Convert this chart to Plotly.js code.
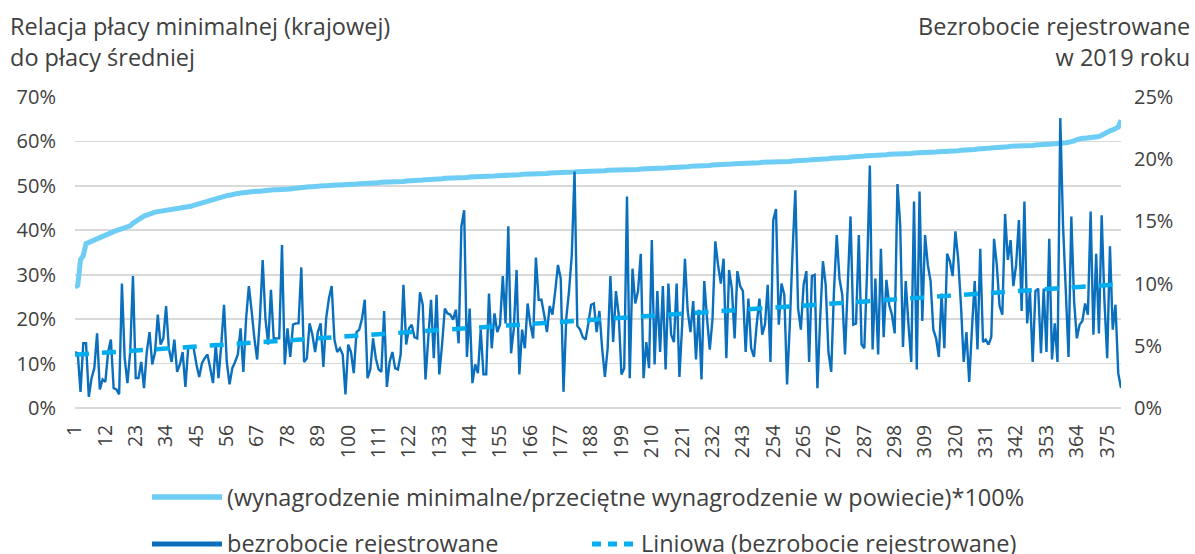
<!DOCTYPE html>
<html>
<head>
<meta charset="utf-8">
<script src="https://cdn.plot.ly/plotly-3.0.1.min.js"></script>
<style>
  html, body { margin: 0; padding: 0; background: #fff; }
  #chart { width: 1195px; height: 554px; }
</style>
</head>
<body>
<div id="chart"></div>
<script>
// ---------- DATA ----------
// Powiat rank (sorted by wage ratio)
const powiatRank = Array.from({length: 380}, (_, i) => i + 1);

// (wynagrodzenie minimalne / przeciętne wynagrodzenie w powiecie) * 100, in %
const wageRatio = [
  27.2, 27.6, 33.4, 34.3, 37.0, 37.3, 37.5, 37.7, 37.9, 38.3,
  38.7, 39.0, 39.3, 39.5, 39.7, 39.9, 40.1, 40.3, 40.5, 40.7,
  41.0, 41.6, 42.1, 42.5, 42.8, 43.2, 43.5, 43.8, 44.0, 44.1,
  44.2, 44.3, 44.4, 44.4, 44.5, 44.6, 44.6, 44.7, 44.8, 45.0,
  45.1, 45.3, 45.4, 45.6, 45.8, 46.0, 46.2, 46.4, 46.6, 46.8,
  46.9, 47.1, 47.3, 47.5, 47.6, 47.8, 47.9, 48.1, 48.2, 48.3,
  48.4, 48.5, 48.6, 48.6, 48.7, 48.7, 48.8, 48.8, 48.9, 48.9,
  49.0, 49.0, 49.1, 49.1, 49.1, 49.2, 49.2, 49.3, 49.3, 49.4,
  49.5, 49.5, 49.6, 49.7, 49.7, 49.8, 49.8, 49.9, 49.9, 50.0,
  50.0, 50.0, 50.1, 50.1, 50.1, 50.2, 50.2, 50.2, 50.3, 50.3,
  50.3, 50.4, 50.4, 50.5, 50.5, 50.5, 50.6, 50.6, 50.6, 50.7,
  50.7, 50.8, 50.8, 50.8, 50.9, 50.9, 50.9, 51.0, 51.0, 51.0,
  51.1, 51.1, 51.2, 51.2, 51.2, 51.3, 51.3, 51.4, 51.4, 51.5,
  51.5, 51.5, 51.6, 51.6, 51.7, 51.7, 51.7, 51.8, 51.8, 51.8,
  51.9, 51.9, 51.9, 52.0, 52.0, 52.0, 52.0, 52.1, 52.1, 52.1,
  52.2, 52.2, 52.2, 52.3, 52.3, 52.3, 52.4, 52.4, 52.4, 52.5,
  52.5, 52.5, 52.6, 52.6, 52.6, 52.7, 52.7, 52.7, 52.7, 52.8,
  52.8, 52.8, 52.9, 52.9, 52.9, 53.0, 53.0, 53.0, 53.1, 53.1,
  53.1, 53.1, 53.2, 53.2, 53.2, 53.3, 53.3, 53.3, 53.3, 53.4,
  53.4, 53.4, 53.4, 53.5, 53.5, 53.5, 53.5, 53.6, 53.6, 53.6,
  53.6, 53.7, 53.7, 53.7, 53.7, 53.8, 53.8, 53.8, 53.8, 53.9,
  53.9, 53.9, 54.0, 54.0, 54.0, 54.1, 54.1, 54.1, 54.2, 54.2,
  54.2, 54.3, 54.3, 54.4, 54.4, 54.4, 54.5, 54.5, 54.6, 54.6,
  54.6, 54.7, 54.7, 54.8, 54.8, 54.8, 54.9, 54.9, 54.9, 55.0,
  55.0, 55.0, 55.1, 55.1, 55.1, 55.2, 55.2, 55.2, 55.2, 55.3,
  55.3, 55.3, 55.4, 55.4, 55.4, 55.4, 55.5, 55.5, 55.5, 55.5,
  55.6, 55.6, 55.6, 55.7, 55.7, 55.8, 55.8, 55.9, 55.9, 56.0,
  56.0, 56.1, 56.1, 56.1, 56.2, 56.2, 56.2, 56.3, 56.3, 56.4,
  56.4, 56.5, 56.5, 56.6, 56.6, 56.7, 56.7, 56.8, 56.8, 56.9,
  56.9, 56.9, 57.0, 57.0, 57.0, 57.1, 57.1, 57.1, 57.2, 57.2,
  57.2, 57.3, 57.3, 57.3, 57.4, 57.4, 57.4, 57.5, 57.5, 57.5,
  57.6, 57.6, 57.6, 57.7, 57.7, 57.7, 57.8, 57.8, 57.8, 57.9,
  57.9, 58.0, 58.0, 58.1, 58.1, 58.2, 58.2, 58.3, 58.3, 58.4,
  58.4, 58.5, 58.5, 58.6, 58.6, 58.7, 58.7, 58.8, 58.8, 58.9,
  58.9, 58.9, 59.0, 59.0, 59.0, 59.1, 59.1, 59.1, 59.2, 59.2,
  59.2, 59.3, 59.3, 59.4, 59.4, 59.5, 59.5, 59.6, 59.6, 59.7,
  59.8, 59.9, 60.1, 60.4, 60.6, 60.7, 60.7, 60.8, 60.8, 60.8,
  60.9, 61.1, 61.4, 61.8, 62.1, 62.4, 62.6, 62.9, 63.2, 64.8
];

// Bezrobocie rejestrowane w 2019 roku, in %
const unemployment = [
  4.5, 4.4, 1.3, 5.2, 5.2, 0.9, 2.4, 3.2, 6.0, 1.5,
  2.3, 2.1, 4.5, 5.5, 1.6, 1.5, 1.1, 10.0, 4.0, 2.0,
  4.5, 10.6, 2.4, 2.4, 3.7, 1.6, 4.5, 6.1, 3.5, 4.5,
  7.5, 5.1, 5.6, 8.2, 4.8, 3.7, 5.5, 2.9, 3.5, 4.5,
  1.7, 4.8, 4.9, 4.8, 3.5, 2.5, 3.6, 4.0, 4.3, 3.2,
  2.0, 5.1, 2.4, 5.1, 8.3, 3.7, 1.9, 3.2, 3.7, 4.3,
  6.4, 2.9, 7.2, 9.8, 7.8, 5.6, 3.9, 7.2, 11.9, 7.2,
  5.1, 9.5, 5.6, 5.6, 5.6, 13.1, 3.5, 6.4, 4.1, 6.7,
  6.8, 6.8, 11.3, 3.7, 4.0, 6.8, 5.9, 4.5, 6.1, 6.8,
  3.3, 7.2, 8.8, 9.8, 5.5, 4.5, 4.8, 4.3, 1.1, 5.1,
  4.5, 2.8, 6.1, 6.3, 7.2, 8.7, 2.4, 3.1, 5.6, 4.0,
  3.1, 2.9, 7.8, 1.7, 3.7, 4.5, 3.2, 3.1, 4.3, 9.9,
  5.1, 6.4, 6.7, 5.7, 5.6, 9.3, 8.3, 2.3, 5.6, 8.7,
  4.0, 9.1, 2.7, 5.1, 8.0, 7.6, 7.5, 7.1, 7.9, 5.2,
  14.6, 15.9, 4.1, 8.0, 2.0, 3.5, 2.8, 6.3, 2.7, 2.7,
  9.2, 4.8, 7.6, 6.1, 6.7, 10.6, 6.8, 14.6, 4.4, 6.4,
  11.1, 2.7, 6.3, 4.8, 8.4, 6.7, 5.6, 12.1, 8.7, 8.7,
  7.5, 6.1, 8.2, 7.5, 9.4, 11.5, 10.4, 1.3, 7.2, 9.4,
  12.3, 19.0, 6.6, 6.3, 5.7, 5.5, 6.8, 8.3, 8.4, 6.1,
  7.8, 4.8, 2.5, 4.8, 10.6, 5.3, 9.4, 7.5, 2.7, 3.2,
  17.0, 2.4, 11.2, 8.4, 9.4, 12.4, 2.4, 5.3, 3.2, 13.5,
  3.5, 9.4, 4.5, 9.8, 3.1, 10.0, 5.9, 5.3, 10.0, 2.5,
  6.7, 12.0, 7.8, 6.1, 8.6, 3.9, 7.9, 2.3, 10.2, 7.2,
  4.7, 7.2, 13.4, 11.5, 10.0, 12.0, 4.0, 11.1, 9.6, 5.6,
  11.0, 9.8, 9.4, 4.5, 8.8, 4.8, 4.1, 6.7, 8.8, 5.9,
  6.7, 9.9, 3.7, 15.1, 16.0, 6.7, 10.0, 9.1, 1.9, 6.7,
  12.6, 17.5, 8.0, 6.3, 9.9, 11.0, 3.7, 10.6, 10.7, 1.6,
  7.2, 11.8, 9.9, 4.5, 2.9, 9.4, 13.9, 10.4, 9.1, 4.3,
  9.9, 15.4, 6.7, 6.8, 13.9, 5.1, 4.8, 11.0, 19.5, 4.7,
  10.4, 4.3, 12.8, 5.7, 10.3, 8.3, 7.5, 6.0, 18.0, 14.7,
  4.9, 10.2, 6.7, 3.7, 16.6, 3.1, 17.4, 7.0, 13.9, 11.5,
  10.2, 6.3, 5.6, 4.1, 9.2, 4.8, 12.4, 11.8, 10.6, 14.2,
  12.0, 8.3, 3.7, 6.1, 2.1, 6.4, 10.2, 4.7, 12.8, 5.3,
  5.5, 5.1, 5.7, 13.6, 11.5, 8.2, 7.5, 15.6, 11.9, 13.5,
  9.8, 11.5, 15.1, 7.8, 16.6, 6.8, 9.4, 3.7, 9.4, 9.6,
  4.4, 9.6, 4.5, 13.6, 3.9, 6.8, 3.7, 23.3, 14.7, 9.4,
  4.1, 15.4, 8.6, 5.6, 6.7, 7.0, 8.4, 7.5, 15.8, 5.9,
  12.4, 6.0, 15.5, 8.6, 4.0, 13.0, 6.3, 8.3, 2.8, 1.6
];

const xTickLabels = [1, 12, 23, 34, 45, 56, 67, 78, 89, 100, 111, 122, 133, 144, 155, 166, 177,
  188, 199, 210, 221, 232, 243, 254, 265, 276, 287, 298, 309, 320, 331, 342, 353, 364, 375];

const seriesNames = [
  "(wynagrodzenie minimalne/przeciętne wynagrodzenie w powiecie)*100%",
  "bezrobocie rejestrowane",
  "Liniowa (bezrobocie rejestrowane)"
];
const leftTitle = "Relacja płacy minimalnej (krajowej)<br>do płacy średniej";
const rightTitle = "Bezrobocie rejestrowane<br>w 2019 roku";

// ---------- Linear trendline (least squares, as in the spreadsheet) ----------
function linearFit(xs, ys) {
  const n = xs.length;
  let sx = 0, sy = 0, sxx = 0, sxy = 0;
  for (let i = 0; i < n; i++) { sx += xs[i]; sy += ys[i]; sxx += xs[i] * xs[i]; sxy += xs[i] * ys[i]; }
  const b = (n * sxy - sx * sy) / (n * sxx - sx * sx);
  const a = (sy - b * sx) / n;
  return xs.map(x => a + b * x);
}
const trend = linearFit(powiatRank, unemployment);

// ---------- Styling ----------
const C_LIGHT = "#6dcdf5";
const C_DARK = "#0a6fbd";
const C_TREND = "#00adee";
const TXT = "#404040";
const FONT = "Open Sans, sans-serif";
const TSIZE = 23.5;

const W = 1195, H = 554;
const M = {l: 75, r: 74, t: 97, b: 146};
const PW = W - M.l - M.r, PH = H - M.t - M.b;
const px = v => (v - M.l) / PW;          // pixel x -> paper x
const py = v => (H - M.b - v) / PH;      // pixel y -> paper y

const traces = [
  {
    x: powiatRank, y: wageRatio, name: seriesNames[0], type: "scatter", mode: "lines",
    line: {color: C_LIGHT, width: 5}, yaxis: "y", hoverinfo: "skip"
  },
  {
    x: powiatRank, y: unemployment, name: seriesNames[1], type: "scatter", mode: "lines",
    line: {color: C_DARK, width: 2.4, simplify: false}, yaxis: "y2", hoverinfo: "skip"
  },
  {
    x: powiatRank, y: trend, name: seriesNames[2], type: "scatter", mode: "lines",
    line: {color: C_TREND, width: 4.5, dash: "14px,13px"}, yaxis: "y2", hoverinfo: "skip"
  }
];

function textAnn(text, x, y, xanchor, align) {
  return {text: text, xref: "paper", yref: "paper", x: px(x), y: py(y), xanchor: xanchor, yanchor: "middle",
          align: align || "left", showarrow: false, font: {family: FONT, size: TSIZE, color: TXT}};
}

const layout = {
  width: W, height: H,
  margin: M,
  paper_bgcolor: "#fff", plot_bgcolor: "#fff",
  showlegend: false,
  font: {family: FONT, color: TXT, size: 20},
  xaxis: {
    range: [1, 380], tickmode: "array", tickvals: xTickLabels, ticktext: xTickLabels.map(String),
    tickangle: -90, showgrid: false, zeroline: false, showline: false,
    ticks: "outside", ticklen: 8, tickcolor: "rgba(0,0,0,0)",
    tickfont: {family: FONT, size: 19.5, color: TXT}
  },
  yaxis: {
    range: [0, 70], dtick: 10, tick0: 0, ticksuffix: "%",
    showgrid: true, gridcolor: "#d9d9d9", gridwidth: 1.6,
    zeroline: true, zerolinecolor: "#d9d9d9", zerolinewidth: 1.6, showline: false,
    ticks: "outside", ticklen: 14, tickcolor: "rgba(0,0,0,0)",
    tickfont: {family: FONT, size: 20, color: TXT}
  },
  yaxis2: {
    range: [0, 25], dtick: 5, tick0: 0, ticksuffix: "%", overlaying: "y", side: "right",
    showgrid: false, zeroline: false, showline: false,
    ticks: "outside", ticklen: 8, tickcolor: "rgba(0,0,0,0)",
    tickfont: {family: FONT, size: 20, color: TXT}
  },
  shapes: [
    {type: "line", xref: "paper", yref: "paper", x0: px(152), x1: px(222), y0: py(497), y1: py(497),
     line: {color: C_LIGHT, width: 5.5}},
    {type: "line", xref: "paper", yref: "paper", x0: px(152), x1: px(222), y0: py(544), y1: py(544),
     line: {color: C_DARK, width: 5}},
    {type: "line", xref: "paper", yref: "paper", x0: px(592), x1: px(636), y0: py(544), y1: py(544),
     line: {color: C_TREND, width: 5, dash: "9px,7px"}}
  ],
  annotations: [
    textAnn(leftTitle, 8, 41, "left", "left"),
    textAnn(rightTitle, 1192, 41, "right", "right"),
    textAnn(seriesNames[0], 225, 497, "left"),
    textAnn(seriesNames[1], 225, 543, "left"),
    textAnn(seriesNames[2], 639, 543, "left")
  ]
};

Plotly.newPlot("chart", traces, layout, {staticPlot: true, displayModeBar: false});
</script>
</body>
</html>
